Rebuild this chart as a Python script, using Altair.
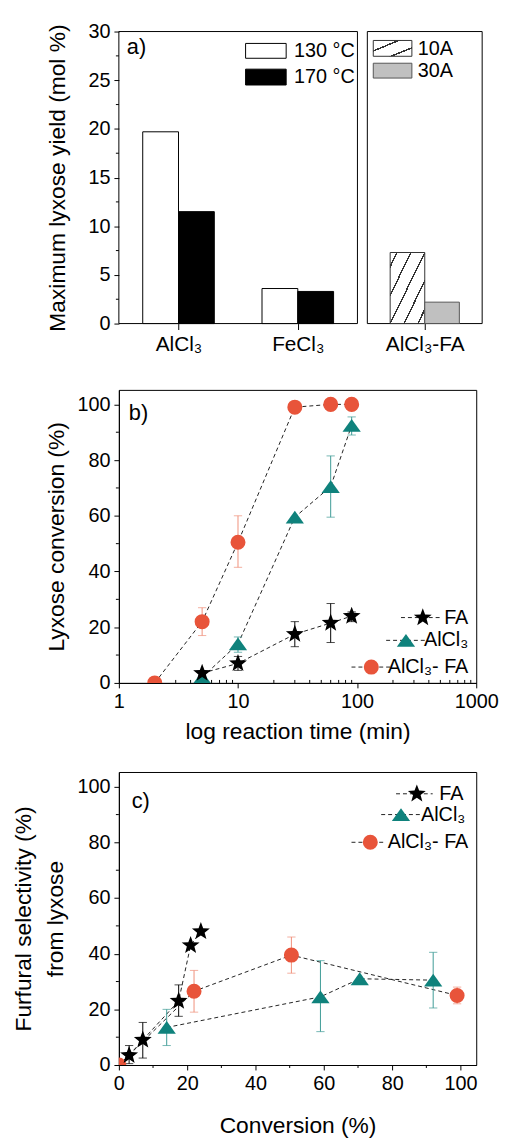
import math
import altair as alt
import pandas as pd

FONT = "Liberation Sans"
RED = "#E8543A"
RED_ERR = "#F0907A"
TEAL = "#0F827C"
TEAL_ERR = "#3E9B96"
BLACK = "#000000"
LINE_C = "#222222"

# ---------------- Panel a data ----------------
cat_a = ["AlCl₃", "FeCl₃"]
yield_130C = [19.7, 3.6]
yield_170C = [11.5, 3.3]
cat_fa = ["AlCl₃-FA"]
yield_10A = [7.3]
yield_30A = [2.2]
ticks_a = [0, 5, 10, 15, 20, 25, 30]
minor_a = [2.5, 7.5, 12.5, 17.5, 22.5, 27.5]

# ---------------- Panel b data ----------------
t_FA = [5, 10, 30, 60, 90]
conv_FA = [3.5, 7, 17.5, 21.5, 24]
conv_FA_lo = [None, 4.5, 13, 14.5, 22]
conv_FA_hi = [None, 9.5, 22, 28.5, 25.5]
t_Al = [5, 10, 30, 60, 90]
conv_Al = [2, 14, 59.5, 70.5, 92.5]
conv_Al_lo = [None, 11, None, 59.5, 89]
conv_Al_hi = [None, 16.5, None, 81.5, 95.5]
t_AlFA = [2, 5, 10, 30, 60, 90]
conv_AlFA = [0, 22, 50.5, 99, 100, 100]
conv_AlFA_lo = [None, 17, 41.5, None, None, None]
conv_AlFA_hi = [None, 27, 60, None, None, None]
ticks_b_x = [1, 10, 100, 1000]
minor_b_x = [2, 3, 4, 5, 6, 7, 8, 9, 20, 30, 40, 50, 60, 70, 80, 90,
             200, 300, 400, 500, 600, 700, 800, 900]
ticks_b_y = [0, 20, 40, 60, 80, 100]
minor_b_y = [10, 30, 50, 70, 90]

# ---------------- Panel c data ----------------
x_FA = [3, 7, 17.5, 21, 24]
sel_FA = [3.5, 9, 23, 43, 48]
sel_FA_lo = [0.5, 2.5, 17.5, None, None]
sel_FA_hi = [7, 15.3, 28.8, None, None]
x_Al = [14, 59, 70.5, 92]
sel_Al = [13.5, 24.5, 31, 30.5]
sel_Al_lo = [7, 12, None, 20.5]
sel_Al_hi = [20, 37.5, None, 40.5]
x_AlFA = [0, 22, 50.5, 99]
sel_AlFA = [0, 26.5, 39.5, 25]
sel_AlFA_lo = [None, 19, 33, 22]
sel_AlFA_hi = [None, 34, 46, 28]
ticks_c_x = [0, 20, 40, 60, 80, 100]
minor_c_x = [10, 30, 50, 70, 90]
ticks_c_y = [0, 20, 40, 60, 80, 100]
minor_c_y = [10, 30, 50, 70, 90]


def star_path(r_in=0.42):
    pts = []
    for k in range(10):
        r = 1.0 if k % 2 == 0 else r_in
        a = -math.pi / 2 + k * math.pi / 5
        pts.append(f"{r * math.cos(a):.3f},{r * math.sin(a):.3f}")
    return "M" + "L".join(pts) + "Z"


STAR = star_path()
TRI = "M0,-0.7L1,0.7L-1,0.7Z"
STYLE = {
    "FA": dict(shape=STAR, size=361, fill=BLACK, err=BLACK),
    "AlCl₃": dict(shape=TRI, size=340, fill=TEAL, err=TEAL_ERR),
    "AlCl₃- FA": dict(shape="circle", size=230, fill=RED, err=RED_ERR),
}

one = pd.DataFrame({"k": [0]})
oneC = alt.Chart(one)


def hatch(centers, w):
    stops = [{"offset": 0, "color": "white"}]
    for c in centers:
        stops += [{"offset": c - w, "color": "white"},
                  {"offset": c - w, "color": "#333333"},
                  {"offset": c + w, "color": "#333333"},
                  {"offset": c + w, "color": "white"}]
    stops.append({"offset": 1, "color": "white"})
    return {"gradient": "linear", "x1": 0, "y1": 0, "x2": 1, "y2": 1, "stops": stops}


# ================= Panel a =================
WA, HA = 367, 295
PX_PER_UNIT = 120.5
LEFT_LO, LEFT_HI = 0.5, 2.5
RIGHT_LO = LEFT_HI + 10 / PX_PER_UNIT
RIGHT_HI = RIGHT_LO + 116 / PX_PER_UNIT
pos_left = [1.0, 2.0]
pos_right = [(RIGHT_LO + RIGHT_HI) / 2]
BW = 0.3
BW_R = 0.29

xa = alt.Scale(domain=[LEFT_LO, RIGHT_HI], nice=False, zero=False)
ya = alt.Scale(domain=[0, 30], nice=False)

lbl_expr = ("datum.value < 1.5 ? '%s' : datum.value < 2.5 ? '%s' : '%s'"
            % (cat_a[0], cat_a[1], cat_fa[0]))
AX_AX = alt.Axis(values=pos_left + pos_right, labelExpr=lbl_expr, title=" ", titleFontSize=5,
                 titlePadding=2, tickSize=6, labelPadding=4, labelFontSize=21, labelFlush=False,
                 domain=False, grid=False)
AX_AY = alt.Axis(values=ticks_a, title="Maximum lyxose yield (mol %)", titleX=-62, titleBaseline="middle",
                 tickSize=5, labelPadding=4, labelFontSize=20, titleFontSize=23, domain=False, grid=False)

df_130 = pd.DataFrame({"x0": [p - BW for p in pos_left], "x1": pos_left, "v": yield_130C})
df_170 = pd.DataFrame({"x0": pos_left, "x1": [p + BW for p in pos_left], "v": yield_170C})
df_10A = pd.DataFrame({"x0": [p - BW_R for p in pos_right], "x1": pos_right, "v": yield_10A})
df_30A = pd.DataFrame({"x0": pos_right, "x1": [p + BW_R for p in pos_right], "v": yield_30A})
df_box = pd.DataFrame({"x0": [LEFT_LO, RIGHT_LO], "x1": [LEFT_HI, RIGHT_HI], "v": [30, 30]})


def bars(df, **mk):
    return alt.Chart(df).mark_rect(strokeWidth=1, **mk).encode(
        x=alt.X("x0:Q", scale=xa, axis=AX_AX), x2="x1:Q",
        y=alt.Y("v:Q", scale=ya, axis=AX_AY), y2=alt.datum(0))


box = bars(df_box, fillOpacity=0, stroke="black")
b130 = bars(df_130, fill="white", stroke="black")
b170 = bars(df_170, fill="black", stroke="black")
b10 = bars(df_10A, fill=hatch([0.1, 0.3, 0.5, 0.7, 0.9], 0.011), stroke="#333333")
b30 = bars(df_30A, fill="#C0C0C0", stroke="#555555")

minor_a_l = alt.Chart(pd.DataFrame({"v": minor_a})).mark_rule(color="black").encode(
    y=alt.Y("v:Q", scale=ya, axis=AX_AY), x=alt.value(0), x2=alt.value(-3))

leg_a = [
    oneC.mark_rect(fill="white", stroke="black").encode(x=alt.value(128), x2=alt.value(169), y=alt.value(12), y2=alt.value(27)),
    oneC.mark_rect(fill="black", stroke="black").encode(x=alt.value(128), x2=alt.value(169), y=alt.value(38), y2=alt.value(54)),
    oneC.mark_text(text="130 °C", align="left", baseline="middle", fontSize=20).encode(x=alt.value(177), y=alt.value(20)),
    oneC.mark_text(text="170 °C", align="left", baseline="middle", fontSize=20).encode(x=alt.value(177), y=alt.value(46)),
    oneC.mark_rect(fill=hatch([0.33, 0.73], 0.025), stroke="#333333").encode(x=alt.value(257), x2=alt.value(296), y=alt.value(9), y2=alt.value(25)),
    oneC.mark_rect(fill="#C0C0C0", stroke="#555555").encode(x=alt.value(257), x2=alt.value(296), y=alt.value(32), y2=alt.value(47)),
    oneC.mark_text(text="10A", align="left", baseline="middle", fontSize=20).encode(x=alt.value(302), y=alt.value(18)),
    oneC.mark_text(text="30A", align="left", baseline="middle", fontSize=20).encode(x=alt.value(302), y=alt.value(40)),
    oneC.mark_text(text="a)", align="left", baseline="middle", fontSize=22).encode(x=alt.value(8), y=alt.value(16)),
]

panel_a = alt.layer(box, b130, b170, b10, b30, minor_a_l, *leg_a).properties(
    width=WA, height=HA, view=alt.ViewBackground(stroke="transparent"))


# ================= helpers for b / c =================
def series_layers(data, xs, ys, axx, axy):
    lines, errs, caps, pts = [], [], [], []
    for name, x, y, lo, hi in data:
        st = STYLE[name]
        df = pd.DataFrame({"x": x, "y": y, "idx": list(range(len(x)))})
        lines.append(alt.Chart(df).mark_line(strokeDash=[4, 3], color=LINE_C, strokeWidth=1, clip=True).encode(
            x=alt.X("x:Q", scale=xs, axis=axx), y=alt.Y("y:Q", scale=ys, axis=axy), order="idx:Q"))
        e = pd.DataFrame({"x": x, "y": lo, "y2": hi}).dropna()
        errs.append(alt.Chart(e).mark_rule(color=st["err"], strokeWidth=1, clip=True).encode(
            x=alt.X("x:Q", scale=xs, axis=axx), y=alt.Y("y:Q", scale=ys, axis=axy), y2="y2:Q"))
        for f in ("lo", "hi"):
            ce = pd.DataFrame({"x": x, "y": lo if f == "lo" else hi}).dropna()
            caps.append(alt.Chart(ce).mark_point(shape="stroke", size=70, color=st["err"], strokeWidth=1,
                                                 clip=True).encode(
                x=alt.X("x:Q", scale=xs, axis=axx), y=alt.Y("y:Q", scale=ys, axis=axy)))
        pts.append(alt.Chart(df).mark_point(filled=True, opacity=1, shape=st["shape"], size=st["size"],
                                            fill=st["fill"], strokeWidth=0, clip=True).encode(
            x=alt.X("x:Q", scale=xs, axis=axx), y=alt.Y("y:Q", scale=ys, axis=axy)))
    return lines + errs + caps + pts


def legend_rows(rows):
    out = []
    for name, y, cx, lx0, lx1, tx in rows:
        st = STYLE[name]
        out.append(oneC.mark_rule(strokeDash=[4, 3], color=LINE_C, strokeWidth=1).encode(
            x=alt.value(lx0), x2=alt.value(lx1), y=alt.value(y)))
        out.append(oneC.mark_point(filled=True, opacity=1, shape=st["shape"], size=st["size"], fill=st["fill"],
                                   strokeWidth=0).encode(x=alt.value(cx), y=alt.value(y)))
        out.append(oneC.mark_text(text=name, align="right", baseline="middle", fontSize=20).encode(
            x=alt.value(tx), y=alt.value(y)))
    return out


# ================= Panel b =================
WB, HB = 361, 296
xb = alt.Scale(type="log", domain=[1, 1000], nice=False)
yb = alt.Scale(domain=[0, 105.2], nice=False, zero=False)
AX_BX = alt.Axis(values=ticks_b_x, format="d", title="log reaction time (min)", titleY=49,
                 titleBaseline="middle", tickSize=5, labelPadding=4, labelFontSize=20, titleFontSize=23,
                 labelFlush=False, grid=False)
AX_BY = alt.Axis(values=ticks_b_y, title="Lyxose conversion (%)", titleX=-63, titleBaseline="middle",
                 tickSize=5, labelPadding=4, labelFontSize=20, titleFontSize=23, grid=False)

minor_bx = alt.Chart(pd.DataFrame({"x": minor_b_x})).mark_rule(color="black").encode(
    x=alt.X("x:Q", scale=xb, axis=AX_BX), y=alt.value(HB), y2=alt.value(HB - 3))
minor_by = alt.Chart(pd.DataFrame({"y": minor_b_y})).mark_rule(color="black").encode(
    y=alt.Y("y:Q", scale=yb, axis=AX_BY), x=alt.value(0), x2=alt.value(-3))

data_b = [
    ("AlCl₃- FA", t_AlFA, conv_AlFA, conv_AlFA_lo, conv_AlFA_hi),
    ("AlCl₃", t_Al, conv_Al, conv_Al_lo, conv_Al_hi),
    ("FA", t_FA, conv_FA, conv_FA_lo, conv_FA_hi),
]
leg_b = legend_rows([
    ("FA", 230, 307, 285, 327, 353),
    ("AlCl₃", 253, 290, 270, 310, 353),
    ("AlCl₃- FA", 280, 255, 235, 275, 353),
])
lab_b = oneC.mark_text(text="b)", align="left", baseline="middle", fontSize=22).encode(
    x=alt.value(10), y=alt.value(23))

panel_b = alt.layer(minor_bx, minor_by, *series_layers(data_b, xb, yb, AX_BX, AX_BY), *leg_b, lab_b).properties(
    width=WB, height=HB)

# ================= Panel c =================
WC, HC = 361, 296
xc = alt.Scale(domain=[0, 104.6], nice=False, zero=False)
yc = alt.Scale(domain=[0, 105.3], nice=False, zero=False)
AX_CX = alt.Axis(values=ticks_c_x, title="Conversion (%)", titleY=61, titleBaseline="middle", tickSize=5,
                 labelPadding=4, labelFontSize=20, titleFontSize=23, labelFlush=False, grid=False)
AX_CY = alt.Axis(values=ticks_c_y, title=["Furfural selectivity (%)", "from lyxose"], titleX=-96,
                 titleBaseline="middle", titleLineHeight=32, tickSize=5, labelPadding=4,
                 labelFontSize=20, titleFontSize=23, grid=False)

minor_cx = alt.Chart(pd.DataFrame({"x": minor_c_x})).mark_rule(color="black").encode(
    x=alt.X("x:Q", scale=xc, axis=AX_CX), y=alt.value(HC), y2=alt.value(HC + 3))
minor_cy = alt.Chart(pd.DataFrame({"y": minor_c_y})).mark_rule(color="black").encode(
    y=alt.Y("y:Q", scale=yc, axis=AX_CY), x=alt.value(0), x2=alt.value(-3))

data_c = [
    ("AlCl₃- FA", x_AlFA, sel_AlFA, sel_AlFA_lo, sel_AlFA_hi),
    ("AlCl₃", x_Al, sel_Al, sel_Al_lo, sel_Al_hi),
    ("FA", x_FA, sel_FA, sel_FA_lo, sel_FA_hi),
]
leg_c = legend_rows([
    ("FA", 22, 301, 280, 317, 348),
    ("AlCl₃", 43, 285, 265, 305, 350),
    ("AlCl₃- FA", 71, 254, 235, 270, 353),
])
lab_c = oneC.mark_text(text="c)", align="left", baseline="middle", fontSize=22).encode(
    x=alt.value(13), y=alt.value(29))

panel_c = alt.layer(minor_cx, minor_cy, *series_layers(data_c, xc, yc, AX_CX, AX_CY), *leg_c, lab_c).properties(
    width=WC, height=HC)

chart = alt.vconcat(panel_a, panel_b, panel_c, spacing=27).properties(
    padding={"left": 4, "top": 7, "right": 0, "bottom": 0}
).configure(font=FONT).configure_view(stroke="black", strokeWidth=1).configure_axis(
    tickColor="black", domainColor="black", labelColor="black", titleColor="black",
    titleFontWeight="normal", labelFont=FONT, titleFont=FONT
).configure_text(font=FONT, color="black")

chart.save("out.html", embed_options={"renderer": "svg", "actions": False})
